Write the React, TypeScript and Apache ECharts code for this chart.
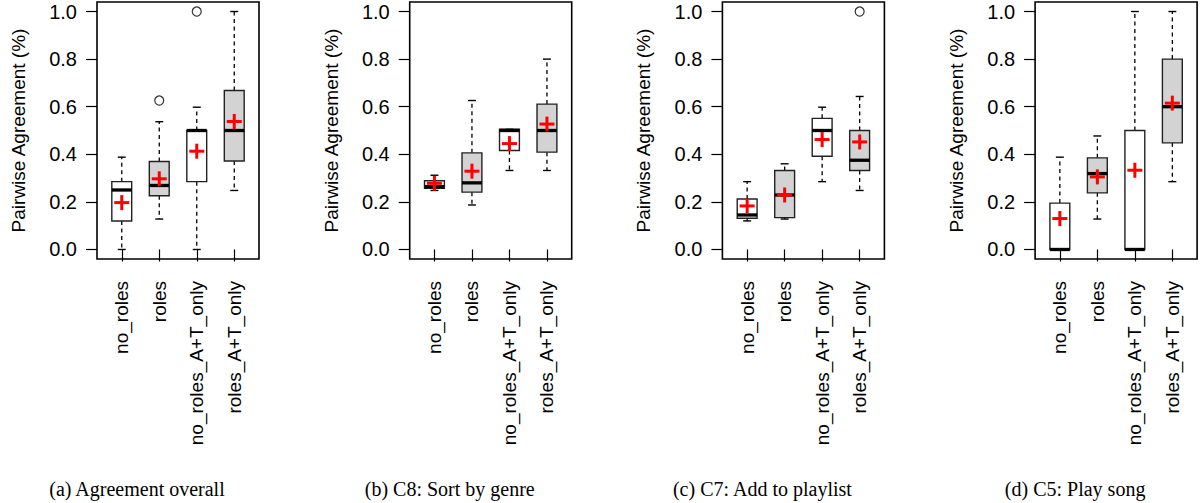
import React, { useEffect, useRef } from "react";
import * as echarts from "echarts";

const categories = ["no_roles", "roles", "no_roles_A+T_only", "roles_A+T_only"];
const captions = [
  "(a) Agreement overall",
  "(b) C8: Sort by genre",
  "(c) C7: Add to playlist",
  "(d) C5: Play song",
];
const yTicks = [0, 0.2, 0.4, 0.6, 0.8, 1.0];
// fill: 0 = white, 1 = gray
const boxFill = [0, 1, 0, 1];

// each row: [whiskerLow, q1, median, q3, whiskerHigh]
const overallBoxes = [
  [0.0, 0.12, 0.25, 0.285, 0.388],
  [0.128, 0.226, 0.269, 0.37, 0.537],
  [0.0, 0.285, 0.5, 0.5, 0.598],
  [0.248, 0.372, 0.5, 0.668, 1.0],
];
const overallMeans = [0.197, 0.297, 0.413, 0.538];
const overallOutliers = [
  [2, 0.626],
  [3, 1.0],
];

const sortGenreBoxes = [
  [0.248, 0.257, 0.264, 0.289, 0.312],
  [0.187, 0.241, 0.28, 0.406, 0.626],
  [0.332, 0.416, 0.5, 0.505, 0.505],
  [0.332, 0.409, 0.5, 0.611, 0.8],
];
const sortGenreMeans = [0.278, 0.329, 0.445, 0.527];
const sortGenreOutliers: number[][] = [];

const playlistBoxes = [
  [0.12, 0.131, 0.145, 0.212, 0.285],
  [0.128, 0.134, 0.229, 0.332, 0.36],
  [0.285, 0.392, 0.5, 0.551, 0.598],
  [0.248, 0.332, 0.375, 0.5, 0.643],
];
const playlistMeans = [0.183, 0.229, 0.462, 0.452];
const playlistOutliers = [[4, 1.0]];

const playSongBoxes = [
  [0.0, 0.0, 0.0, 0.195, 0.388],
  [0.128, 0.238, 0.319, 0.385, 0.477],
  [0.0, 0.0, 0.0, 0.5, 1.0],
  [0.285, 0.448, 0.6, 0.8, 1.0],
];
const playSongMeans = [0.13, 0.305, 0.333, 0.615];
const playSongOutliers: number[][] = [];

const panelBoxes = [overallBoxes, sortGenreBoxes, playlistBoxes, playSongBoxes];
const panelMeans = [overallMeans, sortGenreMeans, playlistMeans, playSongMeans];
const panelOutliers = [overallOutliers, sortGenreOutliers, playlistOutliers, playSongOutliers];

const SANS = "Liberation Sans, Arial, Helvetica, sans-serif";
const SERIF = "Liberation Serif, Times New Roman, serif";

function renderBox(params: any, api: any) {
  const x = api.value(0);
  const lo = api.value(1);
  const q1 = api.value(2);
  const med = api.value(3);
  const q3 = api.value(4);
  const hi = api.value(5);
  const mean = api.value(6);
  const fill = api.value(7);
  const unit = api.size([1, 0])[0];
  const bw = unit * 0.53;
  const sw = bw * 0.4;
  const pLo = api.coord([x, lo]);
  const pQ1 = api.coord([x, q1]);
  const pMed = api.coord([x, med]);
  const pQ3 = api.coord([x, q3]);
  const pHi = api.coord([x, hi]);
  const pMean = api.coord([x, mean]);
  const cx = pMed[0];
  const children: any[] = [];
  const dash = { stroke: "#000", lineWidth: 1.3, lineDash: [4, 3.5] };
  const solid = { stroke: "#000", lineWidth: 1.4 };
  children.push({ type: "line", shape: { x1: cx, y1: pQ3[1], x2: cx, y2: pHi[1] }, style: dash });
  children.push({ type: "line", shape: { x1: cx, y1: pQ1[1], x2: cx, y2: pLo[1] }, style: dash });
  children.push({ type: "line", shape: { x1: cx - sw / 2, y1: pHi[1], x2: cx + sw / 2, y2: pHi[1] }, style: solid });
  children.push({ type: "line", shape: { x1: cx - sw / 2, y1: pLo[1], x2: cx + sw / 2, y2: pLo[1] }, style: solid });
  children.push({
    type: "rect",
    shape: { x: cx - bw / 2, y: pQ3[1], width: bw, height: pQ1[1] - pQ3[1] },
    style: { fill: fill ? "#d3d3d3" : "#ffffff", stroke: "#222", lineWidth: 1.4 },
  });
  children.push({
    type: "line",
    shape: { x1: cx - bw / 2, y1: pMed[1], x2: cx + bw / 2, y2: pMed[1] },
    style: { stroke: "#000", lineWidth: 3.3 },
  });
  const cs = 7.5;
  children.push({
    type: "line",
    shape: { x1: cx - cs, y1: pMean[1], x2: cx + cs, y2: pMean[1] },
    style: { stroke: "#ff0000", lineWidth: 3 },
  });
  children.push({
    type: "line",
    shape: { x1: cx, y1: pMean[1] - cs, x2: cx, y2: pMean[1] + cs },
    style: { stroke: "#ff0000", lineWidth: 3 },
  });
  return { type: "group", children };
}

export default function App() {
  const ref = useRef<HTMLDivElement>(null);
  useEffect(() => {
    if (!ref.current) return;
    const chart = echarts.init(ref.current, undefined, { renderer: "svg" });
    const step = 312.7;
    const grids: any[] = [];
    const xAxes: any[] = [];
    const yAxes: any[] = [];
    const series: any[] = [];
    const graphics: any[] = [];
    for (let k = 0; k < 4; k++) {
      grids.push({
        left: 97 + step * k,
        top: 2,
        width: 162,
        height: 257,
        show: true,
        borderColor: "#000",
        borderWidth: 1.6,
        backgroundColor: "transparent",
      });
      xAxes.push({
        type: "value",
        gridIndex: k,
        min: 0.34,
        max: 4.66,
        axisLine: { show: false },
        splitLine: { show: false },
        axisTick: { show: true, customValues: [1, 2, 3, 4], length: 12, lineStyle: { color: "#000", width: 1.2 } },
        axisLabel: {
          customValues: [1, 2, 3, 4],
          rotate: 90,
          margin: 22,
          color: "#000",
          fontSize: 19,
          fontFamily: SANS,
          formatter: (v: number) => categories[Math.round(v) - 1] ?? "",
        },
      });
      yAxes.push({
        type: "value",
        gridIndex: k,
        min: -0.04,
        max: 1.04,
        axisLine: { show: false },
        splitLine: { show: false },
        name: "Pairwise Agreement (%)",
        nameLocation: "middle",
        nameGap: 69,
        nameTextStyle: { color: "#000", fontSize: 19, fontFamily: SANS },
        axisTick: { show: true, customValues: yTicks, length: 11, lineStyle: { color: "#000", width: 1.2 } },
        axisLabel: {
          customValues: yTicks,
          margin: 20,
          color: "#000",
          fontSize: 20,
          fontFamily: SANS,
          formatter: (v: number) => v.toFixed(1),
        },
      });
      const boxes = panelBoxes[k];
      const means = panelMeans[k];
      series.push({
        type: "custom",
        xAxisIndex: k,
        yAxisIndex: k,
        renderItem: renderBox,
        data: boxes.map((b, i) => [i + 1, b[0], b[1], b[2], b[3], b[4], means[i], boxFill[i]]),
        encode: { x: 0, y: [1, 2, 3, 4, 5, 6] },
        z: 2,
      });
      series.push({
        type: "scatter",
        xAxisIndex: k,
        yAxisIndex: k,
        symbol: "circle",
        symbolSize: 9,
        itemStyle: { color: "#ffffff", borderColor: "#000", borderWidth: 1.2 },
        data: panelOutliers[k],
        z: 3,
      });
      graphics.push({
        type: "text",
        x: 137 + step * k,
        y: 489,
        style: {
          text: captions[k],
          fill: "#000",
          font: `20px ${SERIF}`,
          textAlign: "center",
          textVerticalAlign: "middle",
        },
      });
    }
    chart.setOption({
      animation: false,
      backgroundColor: "#ffffff",
      grid: grids,
      xAxis: xAxes,
      yAxis: yAxes,
      series,
      graphic: graphics,
    });
    return () => chart.dispose();
  }, []);
  return (
    <div
      ref={ref}
      style={{ position: "absolute", left: 0, top: 0, width: 1202, height: 503 }}
    />
  );
}
